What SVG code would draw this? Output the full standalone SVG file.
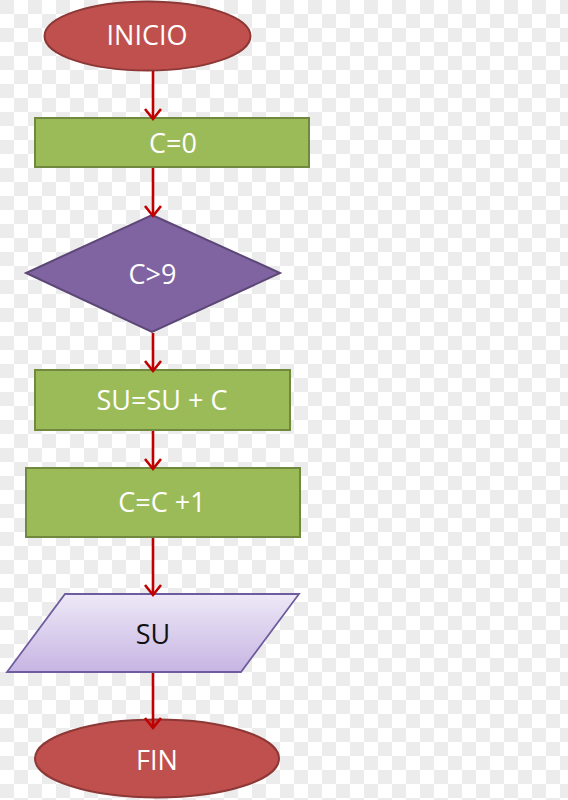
<svg xmlns="http://www.w3.org/2000/svg" width="568" height="800" viewBox="0 0 568 800">
  <defs>
    <pattern id="checker" x="0" y="0" width="28" height="28" patternUnits="userSpaceOnUse">
      <rect width="28" height="28" fill="#ffffff"/>
      <rect x="0" y="0" width="14" height="14" fill="#ececec"/>
      <rect x="14" y="14" width="14" height="14" fill="#ececec"/>
    </pattern>
    <linearGradient id="lav" x1="0" y1="0" x2="0" y2="1">
      <stop offset="0" stop-color="#eee8f7"/>
      <stop offset="1" stop-color="#c6b5e3"/>
    </linearGradient>
    <marker id="arr" markerWidth="20" markerHeight="20" refX="12" refY="10" orient="auto" markerUnits="userSpaceOnUse" viewBox="0 0 20 20">
      <path d="M2,2 L12,10 L2,18" fill="none" stroke="#c00000" stroke-width="2.6" stroke-linejoin="miter"/>
    </marker>
  </defs>
  <style>
    .term { fill: #c0504d; stroke: #8c3836; stroke-width: 2; }
    .proc { fill: #9bbb59; stroke: #71893f; stroke-width: 2; }
    .dec { fill: #8064a2; stroke: #5c4776; stroke-width: 2; }
    .io { fill: url(#lav); stroke: #6f5c9e; stroke-width: 1.8; }
    .lbl { font-family: "Open Sans", "Liberation Sans", sans-serif; font-size: 27px; fill: #ffffff; text-anchor: middle; }
    .dark { fill: #111111; }
    .conn { stroke: #c00000; stroke-width: 2.6; fill: none; marker-end: url(#arr); }
  </style>
  <rect width="568" height="800" fill="url(#checker)"/>

  <g id="inicio">
    <ellipse class="term" cx="147.5" cy="36" rx="103" ry="34.5"/>
    <text class="lbl" x="147" y="45">INICIO</text>
  </g>
  <g id="c0">
    <rect class="proc" x="35" y="118" width="274" height="49"/>
    <text class="lbl" x="173" y="153">C=0</text>
  </g>
  <g id="cond">
    <polygon class="dec" points="152,215 280,273 152,332 26,273"/>
    <text class="lbl" x="152.5" y="284">C&gt;9</text>
  </g>
  <g id="sum">
    <rect class="proc" x="35" y="370" width="255" height="60"/>
    <text class="lbl" x="162" y="410">SU=SU + C</text>
  </g>
  <g id="inc">
    <rect class="proc" x="26" y="468" width="274" height="69"/>
    <text class="lbl" x="162" y="512">C=C +1</text>
  </g>
  <g id="output">
    <polygon class="io" points="65,594 299,594 241,672 7,672"/>
    <text class="lbl dark" x="153" y="644">SU</text>
  </g>
  <g id="fin">
    <ellipse class="term" cx="157" cy="758.5" rx="122" ry="39"/>
    <text class="lbl" x="157" y="770">FIN</text>
  </g>

  <g id="connectors">
    <line class="conn" x1="153" y1="71" x2="153" y2="119"/>
    <line class="conn" x1="153" y1="168" x2="153" y2="216"/>
    <line class="conn" x1="153" y1="333" x2="153" y2="371"/>
    <line class="conn" x1="153" y1="431" x2="153" y2="469"/>
    <line class="conn" x1="153" y1="538" x2="153" y2="595"/>
    <line class="conn" x1="153" y1="673" x2="153" y2="728"/>
  </g>
</svg>
